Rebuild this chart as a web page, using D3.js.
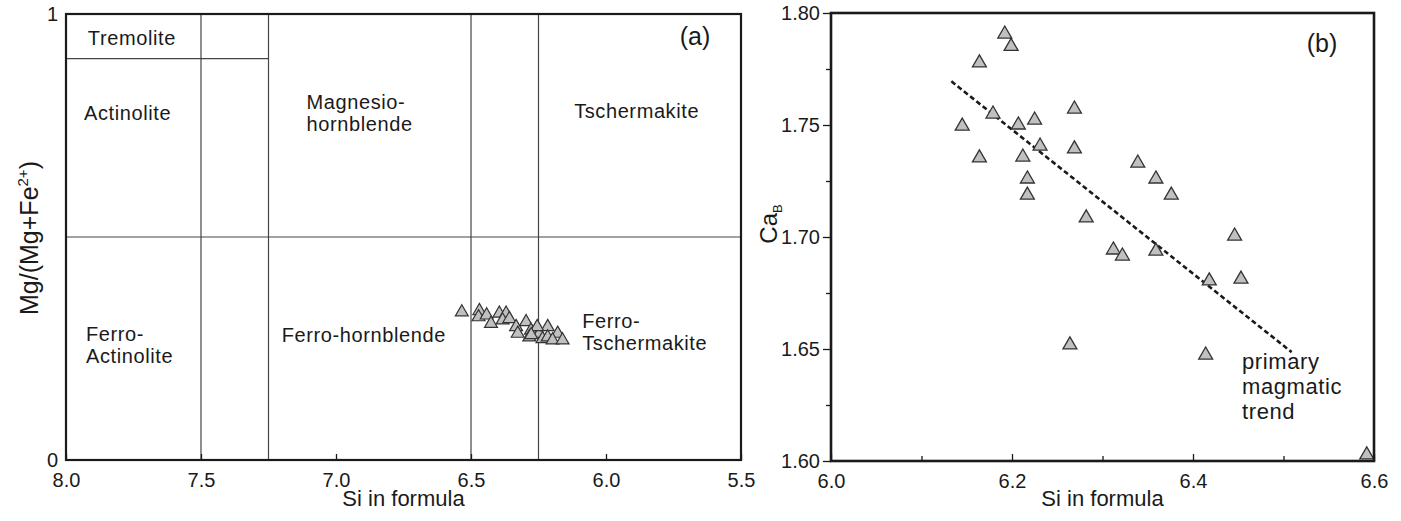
<!DOCTYPE html>
<html>
<head>
<meta charset="utf-8">
<script src="https://cdn.jsdelivr.net/npm/d3@7"></script>
<style>
  body { margin: 0; background: #fff; }
  svg { display: block; font-family: "Liberation Sans", Arial, sans-serif; }
</style>
</head>
<body>
<svg id="chart" width="1401" height="521"></svg>
<script>
// panel (a): amphibole classification, Si vs Mg/(Mg+Fe2+)
var siA = [6.534, 6.469, 6.472, 6.442, 6.426, 6.395, 6.370, 6.383, 6.358, 6.333, 6.296,
           6.327, 6.278, 6.284, 6.247, 6.216, 6.235, 6.216, 6.179, 6.198, 6.161, 6.255, 6.277];
var mgA = [0.336, 0.339, 0.325, 0.329, 0.310, 0.333, 0.333, 0.318, 0.321, 0.303, 0.314,
           0.288, 0.295, 0.280, 0.288, 0.303, 0.276, 0.280, 0.288, 0.273, 0.273, 0.303, 0.285];

// field boundaries
var vLinesA = [7.5, 7.25, 6.5, 6.25];
var hLinesA = [{y: 0.5, from: 8.0, to: 5.5}, {y: 0.9, from: 8.0, to: 7.25}];

// field names (anchor in data units)
var fieldsA = [
  {lines: ["Tremolite"], si: 7.919, mg: 0.930},
  {lines: ["Actinolite"], si: 7.933, mg: 0.762},
  {lines: ["Magnesio-", "hornblende"], si: 7.109, mg: 0.787},
  {lines: ["Tschermakite"], si: 6.118, mg: 0.767},
  {lines: ["Ferro-", "Actinolite"], si: 7.926, mg: 0.267},
  {lines: ["Ferro-hornblende"], si: 7.201, mg: 0.265},
  {lines: ["Ferro-", "Tschermakite"], si: 6.088, mg: 0.296}
];

var xTicksA = [8.0, 7.5, 7.0, 6.5, 6.0, 5.5];
var yTicksA = [0, 1];

// panel (b): Si vs CaB
var siB = [6.192, 6.199, 6.164, 6.179, 6.145, 6.207, 6.225, 6.269, 6.231, 6.269, 6.164,
           6.212, 6.217, 6.217, 6.282, 6.339, 6.359, 6.376, 6.446, 6.312, 6.322, 6.359,
           6.418, 6.453, 6.264, 6.414, 6.592];
var caB = [1.7915, 1.786, 1.7786, 1.7558, 1.7504, 1.7509, 1.7531, 1.758, 1.7415, 1.7402, 1.7362,
           1.7366, 1.7268, 1.7196, 1.7094, 1.7339, 1.7268, 1.7196, 1.7013, 1.6951, 1.6924, 1.6946,
           1.6813, 1.6821, 1.6527, 1.6482, 1.6036];
var trendSi = [6.133, 6.509];
var trendCa = [1.7695, 1.6486];

var xTicksB = [6.0, 6.1, 6.2, 6.3, 6.4, 6.5, 6.6];
var xLabelsB = [6.0, 6.2, 6.4, 6.6];
var yTicksB = [1.6, 1.625, 1.65, 1.675, 1.7, 1.725, 1.75, 1.775, 1.8];
var yLabelsB = [1.6, 1.65, 1.7, 1.75, 1.8];

var svg = d3.select("#chart");
var ink = "#1a1a1a";

function near(a, b) { return Math.abs(a - b) < 1e-6; }

function styleAxis(g) {
  g.select(".domain").remove();
  g.selectAll(".tick line").attr("stroke", ink).attr("stroke-width", 1.3);
  g.selectAll(".tick text").attr("fill", ink).style("font-size", "20px")
    .style("font-family", "'Liberation Sans', Arial, sans-serif");
}

// ---------- panel (a) ----------
var xA = d3.scaleLinear().domain([8.0, 5.5]).range([66, 741]);
var yA = d3.scaleLinear().domain([0, 1]).range([460, 14]);

var gA = svg.append("g");

gA.selectAll(".vline").data(vLinesA).enter().append("line")
  .attr("x1", d => xA(d)).attr("x2", d => xA(d))
  .attr("y1", yA(0)).attr("y2", yA(1))
  .attr("stroke", "#444").attr("stroke-width", 1.2);

gA.selectAll(".hline").data(hLinesA).enter().append("line")
  .attr("x1", d => xA(d.from)).attr("x2", d => xA(d.to))
  .attr("y1", d => yA(d.y)).attr("y2", d => yA(d.y))
  .attr("stroke", "#444").attr("stroke-width", 1.2);

gA.append("g").attr("transform", "translate(0," + yA(0) + ")")
  .call(d3.axisBottom(xA).tickValues(xTicksA).tickSize(-6).tickPadding(13).tickFormat(d3.format(".1f")))
  .call(styleAxis);

gA.append("g").attr("transform", "translate(" + xA(8.0) + ",0)")
  .call(d3.axisLeft(yA).tickValues(yTicksA).tickSize(0).tickPadding(8).tickFormat(d3.format("d")))
  .call(styleAxis);

var fText = gA.selectAll(".field").data(fieldsA).enter().append("text")
  .attr("x", d => xA(d.si)).attr("y", d => yA(d.mg))
  .attr("fill", ink).style("font-size", "20px").style("letter-spacing", "0.6px");
fText.selectAll("tspan").data(d => d.lines.map(l => ({l: l, x: xA(d.si)}))).enter().append("tspan")
  .attr("x", d => d.x).attr("dy", (d, i) => i ? 22 : 0).text(d => d.l);

var triA = d3.symbol().type(d3.symbolTriangle).size(72);
gA.selectAll(".ptA").data(siA.map((s, i) => [s, mgA[i]])).enter().append("path")
  .attr("d", triA)
  .attr("transform", d => "translate(" + xA(d[0]) + "," + (yA(d[1]) + 2) + ")")
  .attr("fill", "#c0c0c0").attr("stroke", "#333").attr("stroke-width", 1.2);

gA.append("rect")
  .attr("x", xA(8.0)).attr("y", yA(1))
  .attr("width", xA(5.5) - xA(8.0)).attr("height", yA(0) - yA(1))
  .attr("fill", "none").attr("stroke", ink).attr("stroke-width", 2.2);

gA.append("text").attr("x", 695).attr("y", 45).attr("text-anchor", "middle")
  .attr("fill", ink).style("font-size", "25px").text("(a)");

gA.append("text").attr("x", (xA(8.0) + xA(5.5)) / 2).attr("y", 506).attr("text-anchor", "middle")
  .attr("fill", ink).style("font-size", "22px").text("Si in formula");

var yLabA = gA.append("text")
  .attr("transform", "translate(38," + 238 + ") rotate(-90)")
  .attr("text-anchor", "middle").attr("fill", ink).style("font-size", "25px");
yLabA.append("tspan").text("Mg/(Mg+Fe");
yLabA.append("tspan").attr("dy", -10).style("font-size", "15px").text("2+");
yLabA.append("tspan").attr("dy", 10).text(")");

// ---------- panel (b) ----------
var xB = d3.scaleLinear().domain([6.0, 6.6]).range([831, 1374]);
var yB = d3.scaleLinear().domain([1.6, 1.8]).range([461, 13]);

var gB = svg.append("g");

var axXB = gB.append("g").attr("transform", "translate(0," + yB(1.6) + ")")
  .call(d3.axisBottom(xB).tickValues(xTicksB).tickSize(-7).tickPadding(13)
    .tickFormat(d => xLabelsB.some(v => near(v, d)) ? d3.format(".1f")(d) : ""))
  .call(styleAxis);
axXB.selectAll(".tick line").attr("y2", d => xLabelsB.some(v => near(v, d)) ? -7 : -5);

var axYB = gB.append("g").attr("transform", "translate(" + xB(6.0) + ",0)")
  .call(d3.axisLeft(yB).tickValues(yTicksB).tickSize(8).tickPadding(3)
    .tickFormat(d => yLabelsB.some(v => near(v, d)) ? d3.format(".2f")(d) : ""))
  .call(styleAxis);
axYB.selectAll(".tick line").attr("x2", d => yLabelsB.some(v => near(v, d)) ? -8 : -5);

gB.append("line")
  .attr("x1", xB(trendSi[0])).attr("y1", yB(trendCa[0]))
  .attr("x2", xB(trendSi[1])).attr("y2", yB(trendCa[1]))
  .attr("stroke", ink).attr("stroke-width", 2.6).attr("stroke-dasharray", "5,3");

var triB = d3.symbol().type(d3.symbolTriangle).size(84);
gB.selectAll(".ptB").data(siB.map((s, i) => [s, caB[i]])).enter().append("path")
  .attr("d", triB)
  .attr("transform", d => "translate(" + xB(d[0]) + "," + (yB(d[1]) + 2) + ")")
  .attr("fill", "#c0c0c0").attr("stroke", "#333").attr("stroke-width", 1.3);

gB.append("rect")
  .attr("x", xB(6.0)).attr("y", yB(1.8))
  .attr("width", xB(6.6) - xB(6.0)).attr("height", yB(1.6) - yB(1.8))
  .attr("fill", "none").attr("stroke", ink).attr("stroke-width", 2.6);

var note = gB.append("text").attr("fill", ink).style("font-size", "22px").style("letter-spacing", "0.6px");
["primary", "magmatic", "trend"].forEach(function(t, i) {
  note.append("tspan").attr("x", 1242).attr("y", 369 + i * 25).text(t);
});

gB.append("text").attr("x", 1322).attr("y", 52).attr("text-anchor", "middle")
  .attr("fill", ink).style("font-size", "25px").text("(b)");

gB.append("text").attr("x", (xB(6.0) + xB(6.6)) / 2).attr("y", 506).attr("text-anchor", "middle")
  .attr("fill", ink).style("font-size", "22px").text("Si in formula");

var yLabB = gB.append("text")
  .attr("transform", "translate(777," + 224 + ") rotate(-90)")
  .attr("text-anchor", "middle").attr("fill", ink).style("font-size", "24px");
yLabB.append("tspan").text("Ca");
yLabB.append("tspan").attr("dy", 5).style("font-size", "13px").text("B");
</script>
</body>
</html>
